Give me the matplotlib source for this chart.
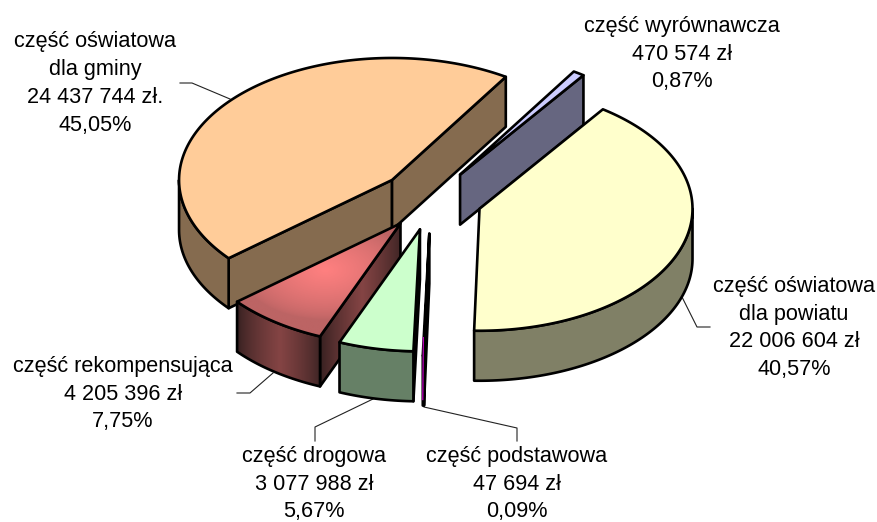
import numpy as np
import matplotlib
matplotlib.use('Agg')
import matplotlib.pyplot as plt
from matplotlib.patches import Polygon
from matplotlib.colors import LinearSegmentedColormap

plt.rcParams['font.family'] = ['Liberation Sans', 'DejaVu Sans']

# dane, kolejnosc zgodnie z ruchem wskazowek zegara
names = ['wyr', 'pow', 'pod', 'dro', 'rek', 'gmi']
values = [470574, 22006604, 47694, 3077988, 4205396, 24437744]
explode = [0.245, 0.24, 0.28, 0.25, 0.243, 0.243]
top_colors = ['#CCCCFF', '#FFFFCC', '#FF00FF', '#CCFFCC', '#FF8080', '#FFCC99']
side_colors = ['#666680', '#808066', '#800080', '#668066', '#804040', '#856B4F']
labels = [
    'część wyrównawcza\n470 574 zł\n0,87%',
    'część oświatowa\ndla powiatu\n22 006 604 zł\n40,57%',
    'część podstawowa\n47 694 zł\n0,09%',
    'część drogowa\n3 077 988 zł\n5,67%',
    'część rekompensująca\n4 205 396 zł\n7,75%',
    'część oświatowa\ndla gminy\n24 437 744 zł.\n45,05%',
]
label_pos = [(682, 54), (794, 328), (517, 484), (314, 484), (123, 394), (95, 83.5)]
leaders = [
    None,
    [(682, 297), (697, 327), (710, 327)],
    [(424, 407), (517, 428), (517, 441)],
    [(373, 399), (315, 427), (315, 441)],
    [(273, 373), (250, 393), (237, 393)],
    [(230, 99), (192, 83), (180, 83)],
]

# geometria pie, w pikselach
CX, CY = 431, 199.5
A, B = 213, 122
DEPTH = 50
START = 54.6
LW = 1.9

fig = plt.figure(figsize=(8.78, 5.22), dpi=100)
ax = fig.add_axes([0, 0, 1, 1])

total = sum(values)
# kat poczatkowy liczony od wycinka 'pow'
order = [1, 2, 3, 4, 5, 0]
angles = {}
th = START
for i in order:
    sweep = values[i] / total * 360
    angles[i] = (th, th - sweep)
    th -= sweep

_z = [2]


def ax_z():
    _z[0] += 1
    return _z[0]


def pt(cx, cy, deg):
    r = np.radians(deg)
    return cx + A * np.cos(r), cy - B * np.sin(r)


def arc(cx, cy, a0, a1):
    n = max(int(abs(a0 - a1)), 2) + 1
    t = np.radians(np.linspace(a0, a1, n))
    return np.column_stack([cx + A * np.cos(t), cy - B * np.sin(t)])


def face(xy, color, grad=None):
    xy = np.asarray(xy)
    z = ax_z()
    if grad is None:
        ax.add_patch(Polygon(xy, closed=True, facecolor=color, edgecolor='black',
                             lw=LW, joinstyle='round', zorder=z))
        return
    # cieniowanie dla wycinka 'rek'
    clip = Polygon(xy, closed=True, facecolor='none', edgecolor='none', zorder=z)
    ax.add_patch(clip)
    x0, x1, y0, y1 = xy[:, 0].min(), xy[:, 0].max(), xy[:, 1].min(), xy[:, 1].max()
    gx, gy = np.meshgrid(np.linspace(x0, x1, 200), np.linspace(y0, y1, 200))
    cm = LinearSegmentedColormap.from_list('g', color)
    im = ax.imshow(grad(gx, gy), extent=(x0, x1, y1, y0), cmap=cm, vmin=0, vmax=1,
                   aspect='auto', zorder=z, interpolation='bilinear')
    im.set_clip_path(clip)
    ax.add_patch(Polygon(xy, closed=True, facecolor='none', edgecolor='black',
                         lw=LW, joinstyle='round', zorder=z))


def draw_slice(i):
    a0, a1 = angles[i]
    mid = np.radians((a0 + a1) / 2)
    cx = CX + explode[i] * A * np.cos(mid)
    cy = CY - explode[i] * B * np.sin(mid)
    top = top_colors[i]
    side = side_colors[i]
    g_side = g_edge = g_top = None
    if names[i] == 'rek':
        top = ['#BC6464', '#FF8080']
        side = ['#352020', '#844444']
        g_top = lambda x, y: np.clip(1 - np.hypot((x - 325) / 85, (y - 270) / 50), 0, 1) ** 0.7
        g_side = lambda x, y: np.clip(1 - np.abs(x - 280) / 42, 0, 1) ** 0.7
        g_edge = lambda x, y: np.clip(1 - np.abs(x - 362) / 42, 0, 1) ** 0.8

    # sciana radialna przy poczatku wycinka
    if np.cos(np.radians(a0)) < 0:
        p = pt(cx, cy, a0)
        face([(cx, cy), p, (p[0], p[1] + DEPTH), (cx, cy + DEPTH)], side, g_edge)
    # sciana radialna przy koncu wycinka
    if np.cos(np.radians(a1)) > 0:
        p = pt(cx, cy, a1)
        face([(cx, cy), p, (p[0], p[1] + DEPTH), (cx, cy + DEPTH)], side, g_edge)
    # sciana boczna, tylko dolna czesc luku
    for lo, hi in [(-180, 0), (-540, -360)]:
        s0, s1 = min(a0, hi), max(a1, lo)
        if s0 > s1:
            up = arc(cx, cy, s0, s1)
            down = up[::-1] + [0, DEPTH]
            face(np.vstack([up, down]), side, g_side)
    # wierzch
    face(np.vstack([[(cx, cy)], arc(cx, cy, a0, a1)]), top, g_top)
    # cienki wycinek: sam kontur zakrylby kolor
    if names[i] == 'pod':
        p = pt(cx, cy, a1)
        ax.plot([p[0] + 0.6, p[0]], [p[1] - 18, p[1] + 44], color='#C000C0',
                lw=0.9, zorder=ax_z())


# orange z tylu, potem reszta do przodu
for i in [5, 0, 1, 4, 3, 2]:
    draw_slice(i)

for line in leaders:
    if line is not None:
        xs, ys = zip(*line)
        ax.plot(xs, ys, color='#222222', lw=0.8, zorder=1)

for txt, (x, y) in zip(labels, label_pos):
    ax.text(x, y, txt, ha='center', va='center', fontsize=15.6, linespacing=1.43,
            color='black', zorder=50)

ax.set_xlim(0, 878)
ax.set_ylim(522, 0)
ax.axis('off')
fig.savefig('out.png', dpi=100, facecolor='white')
